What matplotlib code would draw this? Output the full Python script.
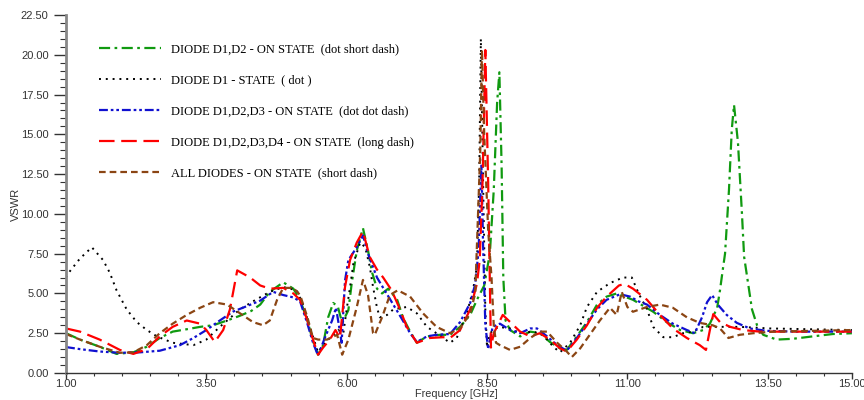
import numpy as np
import matplotlib
matplotlib.use("Agg")
import matplotlib.pyplot as plt
from matplotlib.ticker import MultipleLocator, FormatStrFormatter

# VSWR readings, frequency in GHz
f_d12 = [1.0, 1.25, 1.6, 1.9, 2.2, 2.44, 2.67, 2.9, 3.15, 3.39, 3.62, 3.87, 4.1, 4.3, 4.46, 4.63,
         4.87, 5.05, 5.17, 5.3, 5.4, 5.49, 5.58, 5.67, 5.76, 5.84, 5.92, 6.03, 6.09, 6.18, 6.29, 6.38,
         6.45, 6.54, 6.63, 6.74, 6.9, 7.0, 7.13, 7.25, 7.43, 7.66, 7.84, 8.02, 8.2, 8.32, 8.45, 8.55,
         8.62, 8.68, 8.72, 8.76, 8.79, 8.83, 8.91, 9.09, 9.27, 9.44, 9.62, 9.8, 9.92, 10.1, 10.28,
         10.46, 10.63, 10.81, 10.95, 11.1, 11.46, 11.7, 11.94, 12.17, 12.35, 12.47, 12.6, 12.65,
         12.7, 12.74, 12.81, 12.86, 12.9, 12.97, 13.04, 13.08, 13.15, 13.22, 13.31, 13.42, 13.66,
         13.95, 14.3, 14.66, 15.0]
v_d12 = [2.5, 2.1, 1.65, 1.2, 1.3, 1.65, 2.2, 2.6, 2.75, 2.9, 3.0, 3.3, 3.6, 3.9, 4.3, 5.1,
         5.7, 5.3, 4.6, 3.3, 2.0, 1.15, 1.75, 3.5, 4.4, 4.2, 3.15, 3.95, 5.65, 7.7, 9.1, 7.7,
         6.35, 5.3, 5.0, 5.3, 4.6, 3.5, 2.6, 1.9, 2.3, 2.4, 2.4, 2.9, 3.65, 4.6, 5.5, 7.5,
         11.5, 17.0, 18.9, 13.0, 6.0, 3.3, 2.7, 2.3, 2.6, 2.5, 1.95, 1.55, 1.45, 2.3, 3.2,
         4.3, 4.8, 5.0, 4.8, 4.6, 3.85, 3.2, 2.7, 2.5, 2.7, 3.1, 4.1, 5.2,
         6.5, 7.5, 11.5, 15.3, 16.85, 14.5, 10.1, 7.3, 5.65, 4.0, 3.0, 2.4, 2.1,
         2.15, 2.3, 2.45, 2.5]

f_d1 = [1.0, 1.07, 1.25, 1.46, 1.66, 1.78, 1.9, 2.08, 2.26, 2.44, 2.62, 2.9, 3.27, 3.5, 3.74, 4.1,
        4.33, 4.63, 4.87, 5.11, 5.22, 5.38, 5.49, 5.61, 5.76, 5.85, 5.94, 6.0, 6.06, 6.12, 6.24,
        6.33, 6.41, 6.47, 6.54, 6.59, 6.72, 6.83, 7.07, 7.25, 7.43, 7.66, 7.84, 7.96, 8.14, 8.25,
        8.32, 8.36, 8.39, 8.43, 8.47, 8.5, 8.55, 8.7, 8.91, 9.09, 9.32, 9.5, 9.68, 9.8, 9.98,
        10.16, 10.28, 10.46, 10.69, 10.92, 11.08, 11.2, 11.35, 11.46, 11.64, 11.81, 11.99, 12.17,
        12.35, 12.65, 13.0, 13.54, 15.0]
v_d1 = [6.0, 6.4, 7.2, 7.9, 7.1, 6.3, 5.2, 4.0, 3.2, 2.7, 2.3, 1.9, 1.75, 2.1, 2.9, 4.0,
        4.5, 5.1, 5.4, 5.2, 4.3, 2.5, 1.3, 1.9, 2.4, 2.7, 2.5, 4.0, 5.4, 6.9, 8.2,
        7.9, 6.7, 5.4, 4.1, 3.5, 3.65, 4.0, 4.15, 3.75, 2.9, 2.35, 1.9, 2.2, 3.75, 5.2,
        6.7, 12.0, 21.0, 12.0, 4.0, 1.6, 2.5, 2.9, 2.8, 2.5, 2.6, 2.4, 1.65, 1.3, 1.9,
        3.0, 4.15, 5.1, 5.65, 6.0, 6.0, 5.0, 4.0, 2.9, 2.25, 2.25, 2.5, 2.6,
        2.9, 2.9, 2.9, 2.8, 2.7]

f_d123 = [1.0, 1.25, 1.6, 1.96, 2.32, 2.67, 3.03, 3.27, 3.5, 3.74, 3.97, 4.22, 4.46, 4.69, 4.87,
          5.05, 5.17, 5.3, 5.4, 5.49, 5.61, 5.74, 5.81, 5.88, 5.91, 5.97, 6.03, 6.18, 6.29, 6.38,
          6.54, 6.65, 6.83, 7.0, 7.13, 7.25, 7.43, 7.6, 7.84, 8.02, 8.2, 8.29, 8.35, 8.38, 8.4,
          8.43, 8.47, 8.52, 8.6, 8.73, 8.91, 9.09, 9.27, 9.39, 9.57, 9.75, 9.92, 10.1, 10.28,
          10.46, 10.63, 10.87, 11.05, 11.2, 11.35, 11.58, 11.81, 12.06, 12.2, 12.33, 12.42, 12.51,
          12.61, 12.77, 12.95, 13.18, 13.48, 14.0, 15.0]
v_d123 = [1.63, 1.5, 1.35, 1.27, 1.3, 1.4, 1.75, 2.2, 2.7, 3.3, 3.85, 4.2, 4.55, 5.1, 4.9,
          4.75, 4.5, 3.1, 1.9, 1.1, 2.2, 3.3, 4.1, 2.6, 1.9, 5.8, 7.1, 7.9, 8.65, 7.5,
          6.0, 5.35, 4.3, 3.3, 2.5, 1.95, 2.3, 2.4, 2.45, 3.2, 4.4, 5.6, 7.7, 11.0, 13.1,
          8.0, 3.0, 1.5, 2.9, 3.1, 2.7, 2.5, 2.8, 2.8, 2.3, 1.75, 1.4, 2.2, 3.1,
          4.0, 4.6, 4.95, 4.8, 4.5, 4.3, 3.65, 3.1, 2.7, 2.5, 3.5, 4.45, 4.9,
          4.3, 3.65, 3.15, 2.8, 2.65, 2.6, 2.6]

f_d1234 = [1.0, 1.25, 1.6, 1.96, 2.2, 2.44, 2.67, 2.9, 3.15, 3.39, 3.5, 3.65, 3.8, 3.92, 4.05,
           4.28, 4.46, 4.63, 4.87, 5.05, 5.17, 5.3, 5.4, 5.49, 5.58, 5.7, 5.8, 5.88, 5.97, 6.06,
           6.18, 6.29, 6.41, 6.54, 6.65, 6.8, 6.95, 7.07, 7.25, 7.48, 7.72, 7.84, 8.02, 8.2, 8.32,
           8.37, 8.42, 8.47, 8.52, 8.57, 8.62, 8.78, 9.09, 9.27, 9.44, 9.62, 9.8, 9.92, 10.1,
           10.28, 10.46, 10.63, 10.85, 10.95, 11.1, 11.35, 11.58, 11.81, 12.06, 12.29, 12.4, 12.47,
           12.53, 12.65, 12.83, 13.06, 13.36, 15.0]
v_d1234 = [2.8, 2.6, 2.1, 1.45, 1.2, 1.5, 2.3, 2.9, 3.3, 3.1, 2.7, 1.95, 2.7, 4.0, 6.45,
           6.0, 5.5, 5.3, 5.35, 5.0, 4.6, 3.3, 2.1, 1.15, 1.6, 2.1, 2.7, 2.2, 5.4, 7.1,
           8.2, 8.9, 7.3, 6.5, 6.0, 5.2, 4.0, 2.9, 1.9, 2.2, 2.25, 2.2, 2.7, 4.0, 5.6,
           7.1, 12.0, 20.3, 12.0, 1.6, 2.5, 3.65, 2.6, 2.3, 2.5, 2.1, 1.55, 1.35, 2.1,
           3.0, 4.1, 4.8, 5.5, 5.6, 5.3, 4.6, 3.65, 2.8, 2.2, 1.75, 1.45, 2.7,
           3.7, 3.2, 2.9, 2.7, 2.6, 2.6]

f_all = [1.0, 1.25, 1.6, 1.96, 2.2, 2.44, 2.67, 2.9, 3.15, 3.39, 3.62, 3.87, 4.1, 4.33, 4.51,
         4.63, 4.76, 4.87, 5.05, 5.17, 5.3, 5.4, 5.49, 5.65, 5.83, 5.92, 6.03, 6.18, 6.29, 6.38,
         6.47, 6.5, 6.63, 6.77, 6.91, 7.13, 7.36, 7.6, 7.84, 8.02, 8.2, 8.29, 8.38, 8.41, 8.45,
         8.52, 8.58, 8.62, 8.66, 8.73, 8.91, 9.09, 9.27, 9.44, 9.57, 9.75, 9.92, 10.01, 10.16,
         10.33, 10.51, 10.69, 10.81, 10.9, 11.0, 11.1, 11.35, 11.58, 11.81, 12.06, 12.29, 12.52,
         12.65, 12.8, 13.0, 13.24, 13.6, 15.0]
v_all = [2.45, 2.1, 1.65, 1.27, 1.3, 1.75, 2.5, 3.1, 3.65, 4.1, 4.45, 4.3, 3.75, 3.2, 3.0,
         3.3, 4.6, 5.35, 5.35, 4.9, 3.5, 2.2, 2.1, 2.1, 2.4, 1.15, 2.1, 4.15, 5.85, 4.9,
         2.5, 2.4, 3.5, 4.9, 5.2, 4.8, 3.75, 2.9, 2.5, 2.8, 3.75, 5.0, 14.0, 20.3, 15.0,
         9.0, 6.0, 3.0, 1.9, 1.75, 1.45, 1.65, 2.2, 2.6, 2.6, 1.9, 1.35, 1.0, 1.55,
         2.4, 3.3, 4.1, 3.65, 5.1, 4.15, 3.85, 4.15, 4.3, 4.1, 3.5, 3.15, 3.0,
         2.8, 2.2, 2.4, 2.5, 2.6, 2.7]

labels = ['DIODE D1,D2 - ON STATE  (dot short dash)',
          'DIODE D1 - STATE  ( dot )',
          'DIODE D1,D2,D3 - ON STATE  (dot dot dash)',
          'DIODE D1,D2,D3,D4 - ON STATE  (long dash)',
          'ALL DIODES - ON STATE  (short dash)']

fig = plt.figure(figsize=(8.64, 4.0), dpi=100)
ax = fig.add_axes([0.0764, 0.0675, 0.9096, 0.895])

lw = 1.6
ax.plot(f_d12, v_d12, color='#109a10', lw=lw, ls=(0, (5, 2, 1.2, 2)), label=labels[0])
ax.plot(f_d1, v_d1, color='black', lw=1.4, ls=(0, (1, 2.5)), label=labels[1])
ax.plot(f_d123, v_d123, color='#1010d0', lw=lw, ls=(0, (4, 1.3, 1.2, 1.3, 1.2, 1.3)), label=labels[2])
ax.plot(f_d1234, v_d1234, color='#ff0000', lw=lw, ls=(0, (7, 3)), label=labels[3])
ax.plot(f_all, v_all, color='#8b4513', lw=lw, ls=(0, (3, 1.8)), label=labels[4])

ax.set_xlim(1, 15)
ax.set_ylim(0, 22.5)
ax.set_xticks([1, 3.5, 6, 8.5, 11, 13.5, 15])
ax.xaxis.set_minor_locator(MultipleLocator(0.5))
ax.yaxis.set_major_locator(MultipleLocator(2.5))
ax.yaxis.set_minor_locator(MultipleLocator(0.5))
ax.xaxis.set_major_formatter(FormatStrFormatter('%.2f'))
ax.yaxis.set_major_formatter(FormatStrFormatter('%.2f'))

for s in ['top', 'right']:
    ax.spines[s].set_visible(False)
ax.spines['left'].set_color('#888888')
ax.spines['left'].set_linewidth(2)
ax.spines['bottom'].set_color('#333333')
ax.spines['bottom'].set_linewidth(1)

ax.tick_params(axis='both', which='major', labelsize=8, labelcolor='#333333', color='#333333', width=1)
ax.tick_params(axis='y', which='major', length=9)
ax.tick_params(axis='y', which='minor', color='#333333', length=4.5, width=0.8)
ax.tick_params(axis='x', which='major', length=4, pad=0.5)
ax.tick_params(axis='x', which='minor', color='#333333', length=2.5, width=0.8)
for t in ax.get_xticklabels() + ax.get_yticklabels():
    t.set_family('Liberation Sans')

ax.set_xlabel('Frequency [GHz]', fontsize=7.8, color='#333333', family='Liberation Sans')
ax.xaxis.set_label_coords(0.497, -0.046)
ax.set_ylabel('VSWR', fontsize=8, color='#333333', family='Liberation Sans')
ax.yaxis.set_label_coords(-0.057, 0.47)

ax.legend(loc='upper left', bbox_to_anchor=(0.035, 0.934), borderaxespad=0, frameon=False,
          prop={'family': 'Liberation Serif', 'size': 9}, handlelength=5.0,
          handletextpad=0.8, labelspacing=1.52)

fig.savefig('out.png', dpi=100)
